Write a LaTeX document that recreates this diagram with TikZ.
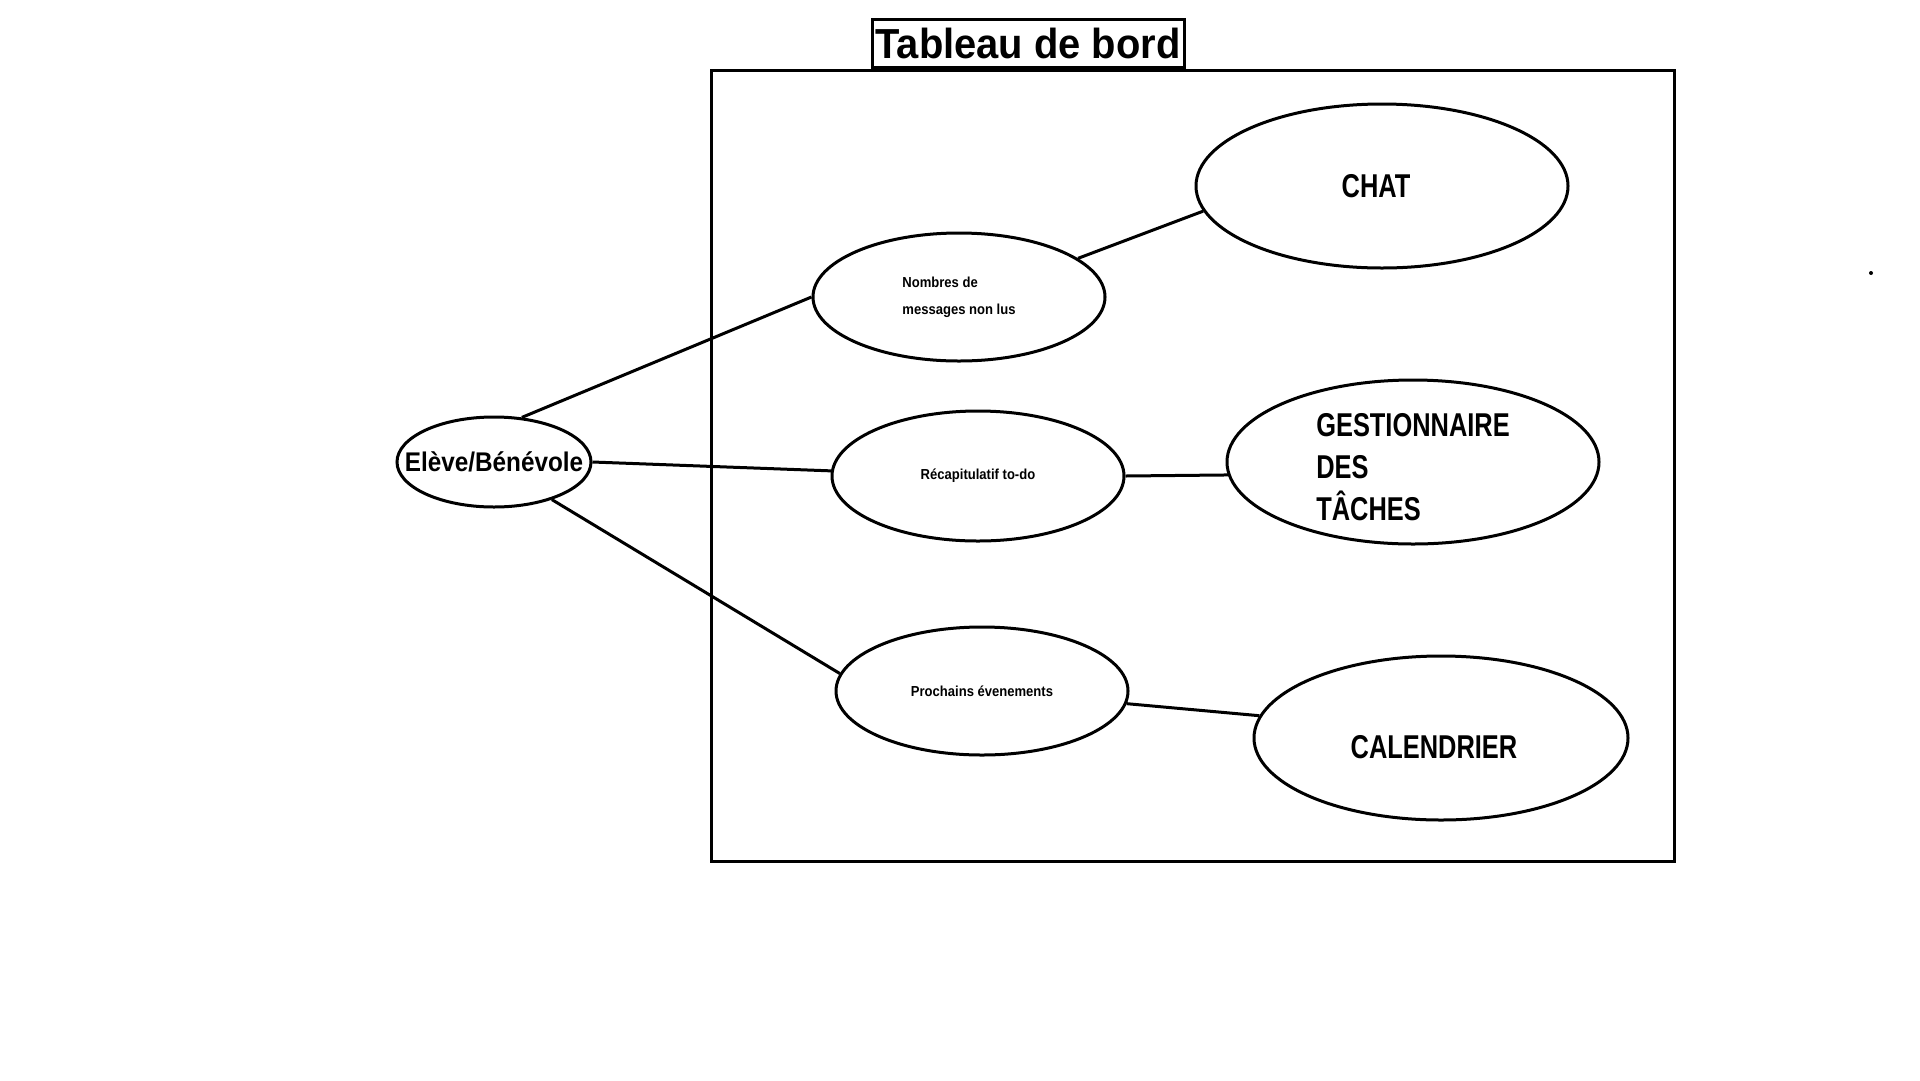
\documentclass[tikz,border=0pt]{standalone}
\usepackage{fontspec}
\setmainfont{Liberation Sans}[FakeStretch=0.9]
\newfontfamily\capsfont{Liberation Sans}[FakeStretch=0.77]
\newfontfamily\titlefont{Liberation Sans}[FakeStretch=0.95]
\newfontfamily\actorfont{Liberation Sans}[FakeStretch=0.9]
\usetikzlibrary{shapes.geometric}
\begin{document}
\begin{tikzpicture}[x=1pt,y=-1pt,line width=3pt,
  ell/.style={draw, ellipse, line width=3pt, inner sep=0pt, fill=white},
  small/.style={font=\fontsize{14.5}{27}\selectfont\bfseries},
  big/.style={font=\capsfont\fontsize{33}{42}\selectfont\bfseries},
  conn/.style={line width=3pt}]
\useasboundingbox (0,0) rectangle (1920,1080);
\fill[white] (0,0) rectangle (1920,1080);
% main frame
\node[draw, line width=3pt, minimum width=963, minimum height=791, inner sep=0pt, anchor=north west] (frame) at (710,69) {};
\node[draw, line width=3pt, fill=white, minimum width=312, minimum height=48, inner sep=0pt, anchor=south] (title) at (1028,69)
  {\titlefont\fontsize{42}{42}\selectfont\bfseries Tableau de bord};
% actor
\node[ell, minimum width=194, minimum height=90,
  label={center:{\actorfont\fontsize{27}{30}\selectfont\bfseries Elève/Bénévole}}] (eleve) at (494,462) {};
% middle ellipses
\node[ell, minimum width=292, minimum height=128,
  label={[small, align=left, anchor=center]center:{Nombres de\\messages non lus}}] (nomb) at (959,297) {};
\node[ell, minimum width=292, minimum height=130,
  label={[small]center:{Récapitulatif to-do}}] (recap) at (978,476) {};
\node[ell, minimum width=292, minimum height=128,
  label={[small]center:{Prochains évenements}}] (proch) at (982,691) {};
% right ellipses
\node[ell, minimum width=372, minimum height=164,
  label={[big, xshift=-6pt]center:{CHAT}}] (chat) at (1382,186) {};
\node[ell, minimum width=372, minimum height=164,
  label={[big, align=left, anchor=center, yshift=-5pt]center:{GESTIONNAIRE\\DES\\TÂCHES}}] (gest) at (1413,462) {};
\node[ell, minimum width=374, minimum height=164,
  label={[big, xshift=-7pt, yshift=-9pt]center:{CALENDRIER}}] (cal) at (1441,738) {};
% connectors
\draw[conn] (eleve.58) -- (nomb.180);
\draw[conn] (eleve.0) -- (recap.178);
\draw[conn] (eleve.-33) -- (proch.173);
\draw[conn] (nomb.18) -- (chat.188);
\draw[conn] (recap.0) -- (gest.184);
\draw[conn] (proch.-5) -- (cal.173);
% stray dot
\fill (1871,273) circle (2);
\end{tikzpicture}
\end{document}
